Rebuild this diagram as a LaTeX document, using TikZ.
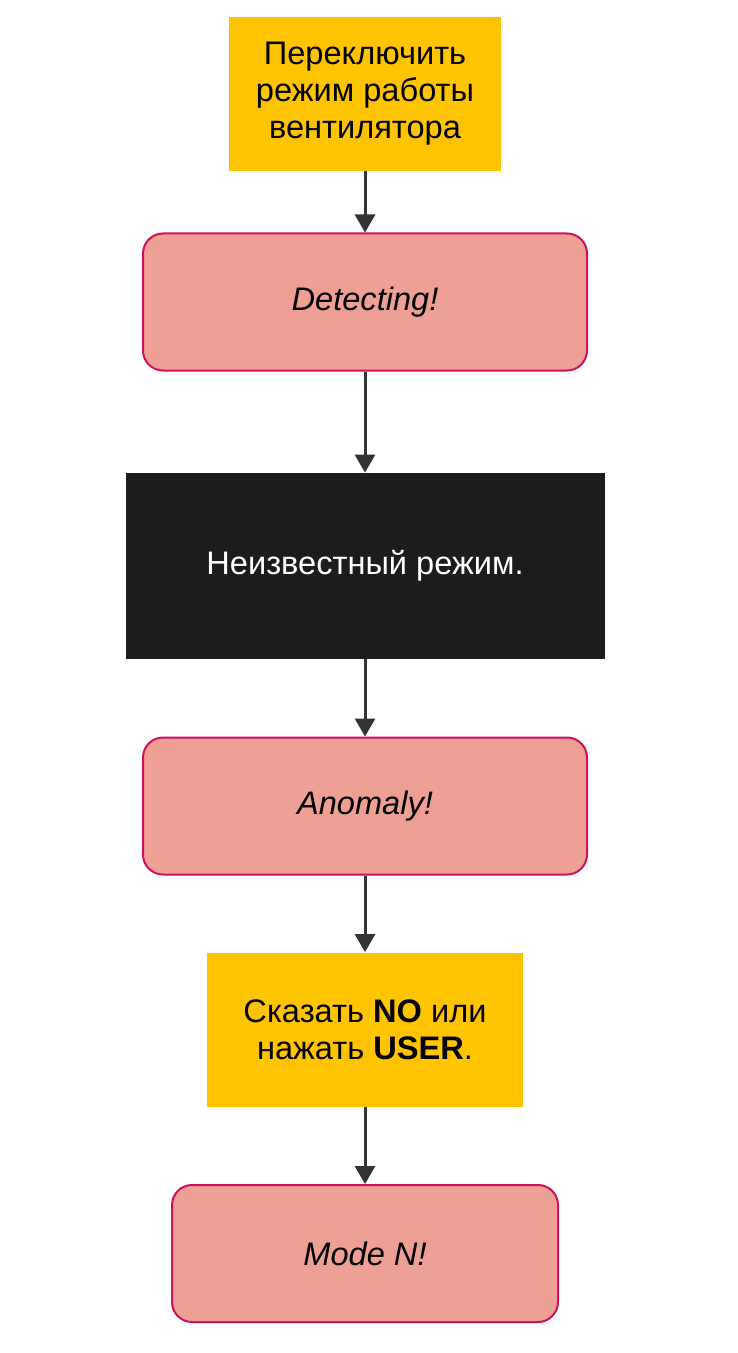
\documentclass[tikz,border=0pt]{standalone}
\usepackage{fontspec}
\setmainfont{Liberation Sans}
\usetikzlibrary{arrows.meta}
\definecolor{boxyellow}{HTML}{FFC400}
\definecolor{boxpink}{HTML}{EFA094}
\definecolor{boxedge}{HTML}{D0105F}
\definecolor{boxblack}{HTML}{1C1C1C}
\definecolor{arrowgray}{HTML}{333333}
\begin{document}
\begin{tikzpicture}[x=0.5pt, y=-0.5pt,
  every node/.style={font=\fontsize{16.3}{18.5}\selectfont, align=center, inner sep=0pt},
  actbox/.style={fill=boxyellow, minimum height=77pt},
  statebox/.style={fill=boxpink, draw=boxedge, line width=1pt, rounded corners=10pt, minimum height=68.5pt, font=\fontsize{16.3}{18.5}\selectfont\itshape},
  darkbox/.style={fill=boxblack, text=white, minimum width=239.5pt, minimum height=93pt},
  flow/.style={-{Triangle[length=9pt, width=10pt]}, draw=arrowgray, fill=arrowgray, line width=1.5pt}]
\useasboundingbox (0,0) rectangle (738,1353);
\node[actbox, minimum width=136pt] (switch) at (365,94) {Переключить\\режим работы\\вентилятора};
\node[statebox, minimum width=222pt] (detect) at (365,302) {Detecting!};
\node[darkbox] (unknown) at (365,566) {Неизвестный режим.};
\node[statebox, minimum width=222pt] (anomaly) at (365,806) {Anomaly!};
\node[actbox, minimum width=158pt] (sayno) at (365,1029.5) {Сказать \textbf{NO} или\\нажать \textbf{USER}.};
\node[statebox, minimum width=193pt] (moden) at (365,1253.5) {Mode N!};
\draw[flow] (switch) -- (detect);
\draw[flow] (detect) -- (unknown);
\draw[flow] (unknown) -- (anomaly);
\draw[flow] (anomaly) -- (sayno);
\draw[flow] (sayno) -- (moden);
\end{tikzpicture}
\end{document}
